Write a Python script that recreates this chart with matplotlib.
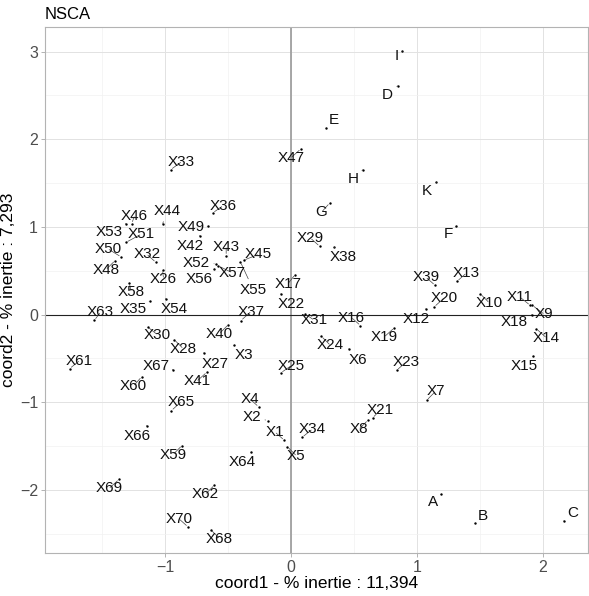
import numpy as np
import matplotlib
matplotlib.use('Agg')
import matplotlib.pyplot as plt

plt.rcParams['font.family'] = ['Liberation Sans', 'DejaVu Sans']

# --- data ---
names = ["X1", "X2", "X3", "X4", "X5", "X6", "X7", "X8", "X9", "X10",
         "X11", "X12", "X13", "X14", "X15", "X16", "X17", "X18", "X19", "X20",
         "X21", "X22", "X23", "X24", "X25", "X26", "X27", "X28", "X29", "X30",
         "X31", "X32", "X33", "X34", "X35", "X36", "X37", "X38", "X39", "X40",
         "X41", "X42", "X43", "X44", "X45", "X46", "X47", "X48", "X49", "X50",
         "X51", "X52", "X53", "X54", "X55", "X56", "X57", "X58", "X59", "X60",
         "X61", "X62", "X63", "X64", "X65", "X66", "X67", "X68", "X69", "X70",
         "A", "B", "C", "D", "E", "F", "G", "H", "I", "K"]

coord1 = [-0.055, -0.187, -0.456, -0.258, -0.029, 0.458, 1.078, 0.611, 1.917, 1.502,
          1.900, 1.070, 1.320, 1.950, 1.921, 0.551, 0.032, 1.915, 0.820, 1.138,
          0.648, -0.081, 0.840, 0.240, -0.081, -1.022, -0.696, -0.930, 0.227, -1.141,
          0.111, -1.075, -0.957, 0.089, -1.123, -0.622, -0.398, 0.345, 1.144, -0.498,
          -0.670, -0.727, -0.516, -1.020, -0.377, -1.267, 0.077, -1.399, -0.662, -1.352,
          -1.312, -0.595, -1.312, -0.998, -0.403, -0.609, -0.583, -1.286, -0.867, -1.188,
          -1.760, -0.609, -1.563, -0.319, -0.951, -1.149, -0.938, -0.640, -1.368, -0.820,
          1.188, 1.460, 2.166, 0.846, 0.279, 1.310, 0.306, 0.569, 0.883, 1.154]

coord2 = [-1.433, -1.209, -0.353, -1.052, -1.509, -0.391, -0.977, -1.205, 0.106, 0.239,
          0.106, 0.065, 0.380, -0.163, -0.475, -0.125, 0.456, 0.000, -0.152, 0.088,
          -1.178, 0.239, -0.635, -0.247, -0.665, 0.513, -0.437, -0.285, 0.779, -0.140,
          0.006, 0.596, 1.653, -1.399, 0.152, 1.160, -0.068, 0.767, 0.334, -0.114,
          -0.658, 0.901, 0.673, 1.038, 0.619, 1.038, 1.889, 0.616, 1.007, 0.658,
          0.824, 0.578, 1.038, 0.182, 0.601, 0.521, 0.559, 0.361, -1.494, -0.710,
          -0.616, -1.946, -0.065, -1.570, -1.095, -1.266, -0.627, -2.452, -1.881, -2.421,
          -2.052, -2.383, -2.357, 2.608, 2.129, 1.007, 1.271, 1.650, 3.002, 1.509]

inertia1 = "11,394"
inertia2 = "7,293"

# label placement (pixel offsets: right, down), mimics ggrepel output
label_offsets = [(-9, -8), (-16, -4), (10, 10), (-9, -8), (9, 9), (9, 11), (9, -9), (-9, 9), (12, 9), (9, 9),
                 (-10, -8), (-9, 10), (9, -8), (10, 9), (-9, 10), (-9, -8), (-7, 9), (-18, 7), (-10, 9), (10, -9),
                 (8, -8), (10, 10), (9, -8), (9, 9), (10, -7), (1, 9), (12, 11), (9, 9), (-9, -8), (10, 8),
                 (9, 6), (-9, -8), (11, -8), (10, -8), (-17, 8), (10, -7), (10, -9), (9, 10), (-9, -8), (-9, 9),
                 (-10, 9), (-9, 10), (0, -9), (4, -13), (15, -6), (3, -8), (-10, 9), (-9, 9), (-17, 1), (-13, -8),
                 (15, -8), (-20, -1), (-17, 8), (9, 10), (13, 28), (-15, 10), (14, 7), (2, 9), (-9, 9), (-8, 9),
                 (10, -8), (-9, 9), (6, -8), (-9, 10), (10, -9), (-9, 10), (-17, -4), (9, 9), (-10, 9), (-9, -8),
                 (-8, 8), (8, -7), (9, -8), (-10, 9), (8, -8), (-8, 8), (-8, 9), (-9, 9), (-5, 5), (-9, 9)]

W, H = 589, 596
fig = plt.figure(figsize=(W / 100, H / 100), dpi=100)
ax = fig.add_axes([45 / W, 1 - 553 / H, (588 - 45) / W, (553 - 27) / H])

# theme_light-like look
ax.set_facecolor('white')
for s in ax.spines.values():
    s.set_color('#b3b3b3')
    s.set_linewidth(0.8)
ax.set_xticks([-1, 0, 1, 2])
ax.set_yticks([-2, -1, 0, 1, 2, 3])
ax.set_xticks([-1.5, -0.5, 0.5, 1.5], minor=True)
ax.set_yticks([-2.5, -1.5, -0.5, 0.5, 1.5, 2.5], minor=True)
ax.grid(True, which='major', color='#e2e2e2', linewidth=0.7)
ax.grid(True, which='minor', color='#f1f1f1', linewidth=0.5)
ax.set_axisbelow(True)
ax.tick_params(which='major', length=3, width=0.7, color='#b3b3b3',
               labelsize=11.5, labelcolor='#4d4d4d', pad=2)
ax.tick_params(which='minor', length=0)

ax.axvline(0, color='#a0a0a0', linewidth=1.3, zorder=1)
ax.axhline(0, color='#222222', linewidth=0.8, zorder=1)

ax.scatter(coord1, coord2, s=3, color='black', zorder=3, linewidths=0)

for name, x, y, (dx, dy) in zip(names, coord1, coord2, label_offsets):
    ax.annotate(name, (x, y), xytext=(dx, -dy), textcoords='offset pixels',
                ha='center', va='center', fontsize=11, color='#111111', zorder=4,
                arrowprops=dict(arrowstyle='-', color='#444444', lw=0.5,
                                shrinkA=1, shrinkB=1.5))

ax.set_xlim(-1.956, 2.36)
ax.set_ylim(-2.72, 3.28)
ax.set_xlabel(f"coord1 - % inertie : {inertia1}", fontsize=12.5, labelpad=1)
ax.set_ylabel(f"coord2 - % inertie : {inertia2}", fontsize=12.5, labelpad=3)
ax.set_title("NSCA", loc='left', fontsize=12, pad=6)

fig.savefig('out.png', dpi=100)
